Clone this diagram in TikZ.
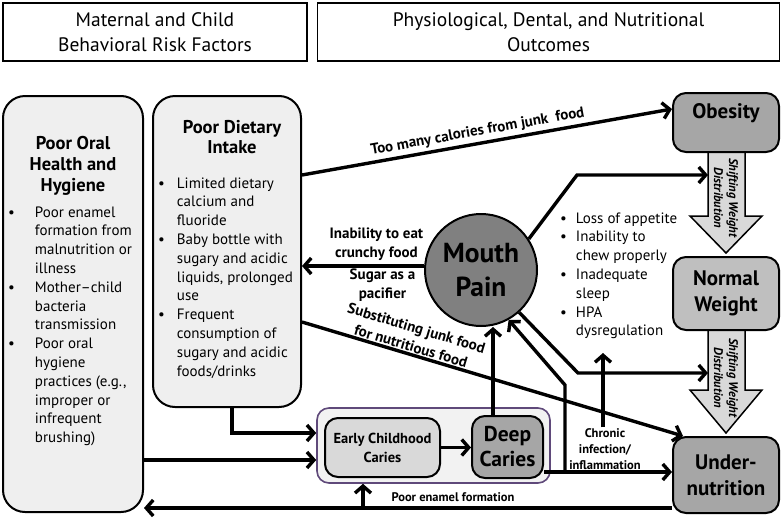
\documentclass[tikz,border=0pt]{standalone}
\usepackage{fontspec}
\setmainfont{PT Sans}
\usepackage{tikz}
\usetikzlibrary{arrows.meta,calc}

\definecolor{paleFill}{HTML}{EFEFEF}
\definecolor{darkFill}{HTML}{A6A6A6}
\definecolor{midFill}{HTML}{BFBFBF}
\definecolor{painFill}{HTML}{808080}
\definecolor{lightFill}{HTML}{D9D9D9}
\definecolor{cariesFill}{HTML}{F2F2F2}
\definecolor{cariesLine}{HTML}{5F497A}

\tikzset{
  hdr/.style={draw, line width=1.6pt, inner sep=0pt, align=center, font=\fontsize{19.5}{25}\selectfont},
  panel/.style={draw, line width=2pt, fill=paleFill, rounded corners=22pt, inner sep=0pt},
  res/.style={draw, line width=2pt, rounded corners=13pt, inner sep=0pt, align=center, font=\bfseries\fontsize{21}{26}\selectfont},
  conn/.style={line width=3.4pt, -{Straight Barb[length=7pt,width=16pt]}},
  lbl/.style={font=\bfseries\fontsize{15}{19}\selectfont, align=center, inner sep=1pt},
  small/.style={font=\bfseries\fontsize{12.5}{16}\selectfont, align=center, inner sep=1pt},
  blist/.style={font=\fontsize{15}{18.8}\selectfont, inner sep=0pt, anchor=base west},
  shiftarr/.style={draw, line width=1.5pt, fill=lightFill},
  shifttxt/.style={rotate=-90, font=\bfseries\itshape\fontsize{12.5}{15}\selectfont, align=center, inner sep=0pt}
}

\begin{document}
\begin{tikzpicture}[x=1pt, y=-1pt]
	\useasboundingbox (0,0) rectangle (782,517);
	% Headings:
	\node[hdr, minimum width=304pt, minimum height=58pt] (HdrL) at (155,32) {Maternal and Child\\Behavioral Risk Factors};
	\node[hdr, minimum width=462pt, minimum height=58pt] (HdrR) at (548.5,32) {Physiological, Dental, and Nutritional\\Outcomes};

	% Risk factor panels:
	\node[panel, minimum width=140pt, minimum height=416pt] (Oral) at (73,304) {};
	\node[font=\bfseries\fontsize{18.5}{21}\selectfont, align=center] (OralTtl) at (73,166) {Poor Oral\\Health and\\Hygiene};
	\node[blist] (OralList) at (8,217) {\begin{tabular}[t]{@{}l@{\hspace{20pt}}l@{}}
		\textbullet & Poor enamel\\ & formation from\\ & malnutrition or\\ & illness\\
		\textbullet & Mother–child\\ & bacteria\\ & transmission\\
		\textbullet & Poor oral\\ & hygiene\\ & practices (e.g.,\\ & improper or\\ & infrequent\\ & brushing)
	\end{tabular}};
	\node[panel, minimum width=148pt, minimum height=311pt] (Diet) at (227,251.5) {};
	\node[font=\bfseries\fontsize{18.5}{20}\selectfont, align=center] (DietTtl) at (232,137) {Poor Dietary\\Intake};
	\node[blist] (DietList) at (158,188) {\begin{tabular}[t]{@{}l@{\hspace{12pt}}l@{}}
		\textbullet & Limited dietary\\ & calcium and\\ & fluoride\\
		\textbullet & Baby bottle with\\ & sugary and acidic\\ & liquids, prolonged\\ & use\\
		\textbullet & Frequent\\ & consumption of\\ & sugary and acidic\\ & foods/drinks
	\end{tabular}};

	% Shifting weight arrows:
	\draw[shiftarr] (708,150) -- (745,150) -- (745,216) -- (762,216) -- (726,253) -- (690,216) -- (708,216) -- cycle;
	\node[shifttxt] (ShiftTxtA) at (726,198) {Shifting Weight\\Distribution};
	\draw[shiftarr] (708,328) -- (745,328) -- (745,390) -- (762,390) -- (726,433) -- (690,390) -- (708,390) -- cycle;
	\node[shifttxt] (ShiftTxtB) at (726,378) {Shifting Weight\\Distribution};
	\coordinate (ShiftA) at (708,175);
	\coordinate (ShiftB) at (708,373);

	% Outcomes:
	\node[res, fill=darkFill, minimum width=106pt, minimum height=59pt] (Obes) at (726,122.5) {\raisebox{9pt}[\height][\depth]{Obesity}};
	\node[res, fill=midFill, minimum width=106pt, minimum height=73pt] (Norm) at (726,293.5) {Normal\\Weight};
	\node[res, fill=darkFill, minimum width=106pt, minimum height=76pt] (Under) at (726,475) {Under-\\nutrition};

	\node[circle, draw, line width=2pt, fill=painFill, minimum size=112pt, inner sep=0pt, align=center, font=\bfseries\fontsize{27.5}{34}\selectfont] (Pain) at (481,270) {Mouth\\Pain};
	\node[blist] (PainList) at (560,223) {\begin{tabular}[t]{@{}l@{\hspace{9pt}}l@{}}
		\textbullet & Loss of appetite\\
		\textbullet & Inability to\\ & chew properly\\
		\textbullet & Inadequate\\ & sleep\\
		\textbullet & HPA\\ & dysregulation
	\end{tabular}};

	% Caries group:
	\node[draw=cariesLine, line width=1.6pt, fill=cariesFill, rounded corners=12pt, minimum width=233pt, minimum height=75pt] (Outer) at (433.5,445.5) {};
	\node[res, fill=lightFill, minimum width=115pt, minimum height=59pt, font=\bfseries\fontsize{14.5}{19}\selectfont] (ECC) at (382.5,447.5) {Early Childhood\\Caries};
	\node[res, fill=darkFill, minimum width=71pt, minimum height=62pt, font=\bfseries\fontsize{21.5}{25}\selectfont] (Deep) at (507.5,447) {Deep\\Caries};
	\node[small] (EnamLab) at (453,497) {Poor enamel formation};
	\node[small] (ChrLab) at (605,449) {Chronic\\infection/\\inflammation};
	\coordinate (EnamFoot) at (363,508);
	\coordinate (InfA) at (565,472);
	\coordinate (InfB) at (565,385);
	\coordinate (AppA) at (577,175);
	\coordinate (AppB) at (578,373);
	\coordinate (HpaTip) at (603,353);

	% Connectors:
	\draw[conn] (Diet.east |- 0,175) -- (Obes.west |- 0,109) node[lbl, pos=0.48, above=2pt, sloped] (CalLab) {Too many calories from junk \ food};
	\draw[conn] (Pain.west |- 0,266) -- (Diet.east |- 0,266)
		node[lbl, pos=0.39, above=3pt] (InabLab) {Inability to eat\\crunchy food}
		node[lbl, pos=0.34, below=0pt] (SugLab) {Sugar as a\\pacifier};
	\draw[conn] (Diet.east |- 0,322) -- ($(Under.north west)+(11,0)$) node[lbl, pos=0.28, above=0pt, sloped] (SubLab) {Substituting junk food\\for nutritious food};
	\draw[conn] (Diet.south -| 232,0) |- (Outer.west |- 0,433);
	\draw[conn] (Oral.east |- 0,460) -- (Outer.west |- 0,460);
	\draw[conn] (Under.west |- 0,508) -- (Oral.east |- 0,508);
	\draw[conn] (EnamFoot) -- (EnamFoot |- Outer.south);
	\draw[conn] (ECC.east) -- (Deep.west |- ECC.east);
	\draw[conn] (Deep.north -| 493,0) -- (Pain.south -| 493,0);
	\draw[conn] (Deep.east |- 0,472) -- (Under.west |- 0,472);
	\draw[conn] (InfA) -- (InfB) -- (Pain.-61);
	\draw[conn] (Pain.33) -- (AppA) -- (ShiftA);
	\draw[conn] (Pain.-48) -- (AppB) -- (ShiftB);
	\draw[conn] (ChrLab.north -| HpaTip) -- (HpaTip);
\end{tikzpicture}
\end{document}
